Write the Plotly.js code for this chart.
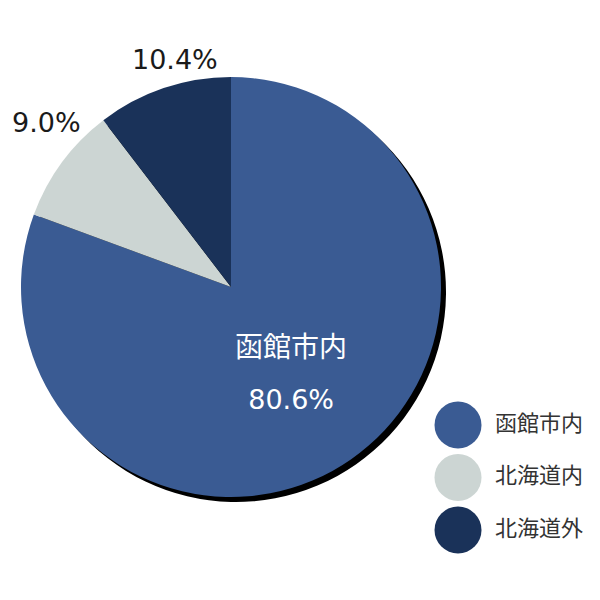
<!DOCTYPE html>
<html><head><meta charset="utf-8">
<script src="https://cdn.plot.ly/plotly-3.0.1.min.js"></script>
<style>body{margin:0}#chart{width:600px;height:600px}</style>
</head><body><div id="chart"></div>
<script>
const categories = ['函館市内', '北海道内', '北海道外'];
const values = [80.6, 9.0, 10.4];
const colors = ['#3A5B93', '#CCD5D3', '#1A3259'];
const legendPos = [0, 1, 2];
// outside label anchors (pixels) for the two small slices
const outsideLabelPx = [null, [46, 122], [175, 60]];

const FONT = 'DejaVu Sans, Noto Sans CJK JP, sans-serif';
const cx = 231, cy = 287, r = 210, sh = 5;
const dom = (dx, dy) => ({
  x: [(cx - r + dx) / 600, (cx + r + dx) / 600],
  y: [1 - (cy + r + dy) / 600, 1 - (cy - r + dy) / 600]
});

const shadow = {
  type: 'pie', values: values, labels: categories, sort: false,
  direction: 'clockwise', rotation: 0, domain: dom(sh, sh),
  marker: {colors: categories.map(() => '#000000')},
  textinfo: 'none', hoverinfo: 'skip', showlegend: false
};
const main = {
  type: 'pie', values: values, labels: categories, sort: false,
  direction: 'clockwise', rotation: 0, domain: dom(0, 0),
  marker: {colors: colors, line: {width: 0}},
  textposition: ['inside', 'none', 'none'],
  insidetextorientation: 'horizontal',
  texttemplate: [
    '<span style="font-size:28px">%{label}</span><br><span style="font-size:27px">%{percent:.1%}</span>',
    '', ''
  ],
  insidetextfont: {family: FONT, size: [40, 27, 27], color: '#ffffff'},
  showlegend: false, hoverinfo: 'label+percent'
};
const legendMarkers = {
  type: 'scatter', mode: 'markers', xaxis: 'x', yaxis: 'y',
  x: legendPos.map(() => 0.1548), y: legendPos,
  marker: {size: 47, color: colors}, hoverinfo: 'skip', showlegend: false,
  cliponaxis: false
};
const legendText = {
  type: 'scatter', mode: 'text', xaxis: 'x', yaxis: 'y',
  x: legendPos.map(() => 0.375), y: legendPos,
  text: categories, textposition: 'middle right',
  textfont: {family: FONT, size: 22, color: '#333333'},
  hoverinfo: 'skip', showlegend: false, cliponaxis: false
};

const annotations = values.map((v, i) => outsideLabelPx[i] ? {
  xref: 'paper', yref: 'paper', x: outsideLabelPx[i][0] / 600, y: 1 - outsideLabelPx[i][1] / 600,
  xanchor: 'center', yanchor: 'middle', showarrow: false,
  text: v.toFixed(1) + '%', font: {family: FONT, size: 27, color: '#1a1a1a'}
} : null).filter(a => a);

const layout = {
  width: 600, height: 600, margin: {l: 0, r: 0, t: 0, b: 0},
  paper_bgcolor: '#ffffff', plot_bgcolor: 'rgba(0,0,0,0)',
  showlegend: false,
  font: {family: FONT},
  annotations: annotations,
  xaxis: {domain: [432/600, 1], range: [0, 1], visible: false, fixedrange: true},
  yaxis: {domain: [1 - 556.25/600, 1 - 398.75/600], range: [2.5, -0.5], visible: false, fixedrange: true}
};
Plotly.newPlot('chart', [shadow, main, legendMarkers, legendText], layout, {displayModeBar: false, staticPlot: true});
</script></body></html>
